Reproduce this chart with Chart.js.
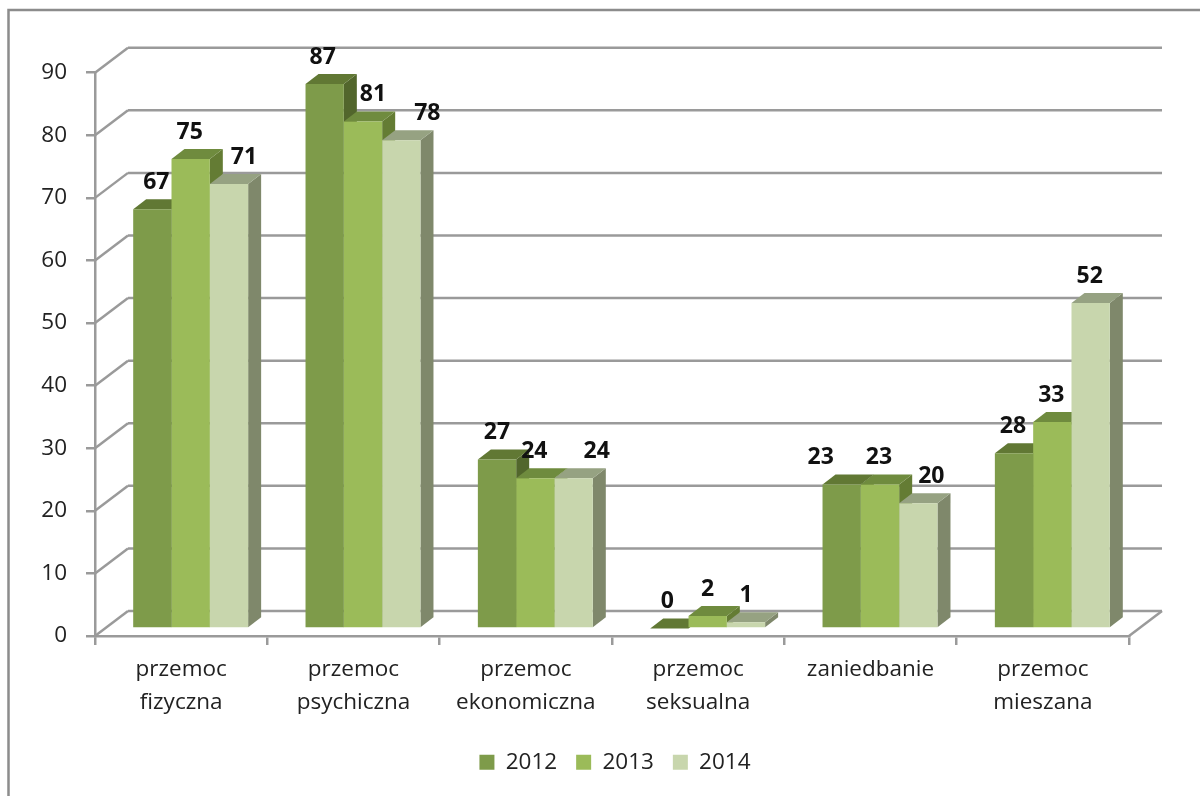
<!DOCTYPE html>
<html lang="pl">
<head>
<meta charset="utf-8">
<title>Formy przemocy 2012-2014</title>
<script src="https://cdn.jsdelivr.net/npm/chart.js@4"></script>
<style>
  html, body { margin: 0; background: #fff; }
  canvas { display: block; }
</style>
</head>
<body>
<canvas id="wykres" width="1200" height="796"></canvas>
<script>
const kategorie = [
  ['przemoc', 'fizyczna'],
  ['przemoc', 'psychiczna'],
  ['przemoc', 'ekonomiczna'],
  ['przemoc', 'seksualna'],
  ['zaniedbanie'],
  ['przemoc', 'mieszana'],
];
const lata = ['2012', '2013', '2014'];
const dane2012 = [67, 87, 27, 0, 23, 28];
const dane2013 = [75, 81, 24, 2, 23, 33];
const dane2014 = [71, 78, 24, 1, 20, 52];

// kolory: przód, góra, bok słupka
const koloryPrzod = ['#7e9b4a', '#9bbb59', '#c8d6ad'];
const koloryGora  = ['#617834', '#6f8b3e', '#96a282'];
const koloryBok   = ['#52662c', '#647c34', '#7f886b'];

// etykiety w oryginale nie są równo nad słupkami
const przesuniecieEtykiet = [
  [4, -2, 0, -2, -21, -1],
  [-1, 10, -1, 0, -1, -1],
  [15, 26, 23, 0, 13, -1],
];

const FONT = '"Open Sans"';
const SZARY = '#9a9a9a';
const GLEBIA_SCIANY = { x: 33, y: 25 };  // tylna ściana względem osi
const PRZESUNIECIE = { x: 9.5, y: -7.5 };  // słupki stoją w głębi podłogi
const GLEBIA_SLUPKA = { x: 13, y: 10 };

function wielokat(ctx, punkty, kolor) {
  ctx.fillStyle = kolor;
  ctx.beginPath();
  punkty.forEach((p, i) => i ? ctx.lineTo(p[0], p[1]) : ctx.moveTo(p[0], p[1]));
  ctx.closePath();
  ctx.fill();
}

function linia(ctx, x1, y1, x2, y2) {
  ctx.beginPath();
  ctx.moveTo(x1, y1);
  ctx.lineTo(x2, y2);
  ctx.stroke();
}

const ramka = {
  id: 'ramka',
  beforeDraw(chart) {
    const { ctx, width, height } = chart;
    ctx.save();
    ctx.strokeStyle = '#8c8c8c';
    ctx.lineWidth = 2.5;
    ctx.beginPath();
    ctx.moveTo(8.5, height);
    ctx.lineTo(8.5, 10);
    ctx.lineTo(width, 10);
    ctx.stroke();
    ctx.restore();
  },
};

const legendaPozycja = {
  id: 'legendaPozycja',
  afterLayout(chart) {
    const l = chart.legend;
    const dx = 615 - (l.left + l.right) / 2;
    l.left += dx;
    l.right += dx;
    const h = l.height;
    l.top = 732;
    l.bottom = 732 + h;
  },
};

// tylna ściana i boki słupków, przody rysuje sam Chart.js
const bryla = {
  id: 'bryla',
  beforeDatasetsDraw(chart) {
    const { ctx, chartArea, scales } = chart;
    ctx.save();
    ctx.strokeStyle = SZARY;
    ctx.lineWidth = 2.5;
    scales.y.ticks.forEach(t => {
      const y = scales.y.getPixelForValue(t.value);
      linia(ctx, chartArea.left, y, chartArea.left + GLEBIA_SCIANY.x, y - GLEBIA_SCIANY.y);
      linia(ctx, chartArea.left + GLEBIA_SCIANY.x, y - GLEBIA_SCIANY.y, chartArea.right + GLEBIA_SCIANY.x, y - GLEBIA_SCIANY.y);
    });
    linia(ctx, chartArea.right, chartArea.bottom, chartArea.right + GLEBIA_SCIANY.x, chartArea.bottom - GLEBIA_SCIANY.y);

    ctx.translate(PRZESUNIECIE.x, PRZESUNIECIE.y);
    const dx = GLEBIA_SLUPKA.x, dy = GLEBIA_SLUPKA.y;
    chart.data.labels.forEach((_, k) => {
      chart.data.datasets.forEach((ds, s) => {
        const b = chart.getDatasetMeta(s).data[k];
        const l = b.x - b.width / 2, r = b.x + b.width / 2;
        wielokat(ctx, [[r, b.y], [r + dx, b.y - dy], [r + dx, b.base - dy], [r, b.base]], koloryBok[s]);
        wielokat(ctx, [[l, b.y], [l + dx, b.y - dy], [r + dx, b.y - dy], [r, b.y]], koloryGora[s]);
      });
    });
  },
  afterDatasetsDraw(chart) {
    const { ctx } = chart;
    ctx.restore();
    ctx.save();
    ctx.font = 'bold 23px ' + FONT;
    ctx.fillStyle = '#111';
    ctx.textAlign = 'center';
    ctx.textBaseline = 'middle';
    chart.data.datasets.forEach((ds, s) => {
      chart.getDatasetMeta(s).data.forEach((b, k) => {
        ctx.fillText(ds.data[k], b.x + PRZESUNIECIE.x + przesuniecieEtykiet[s][k], b.y + PRZESUNIECIE.y - 27);
      });
    });
    ctx.restore();
  },
};

new Chart(document.getElementById('wykres'), {
  type: 'bar',
  data: {
    labels: kategorie,
    datasets: [dane2012, dane2013, dane2014].map((d, i) => ({
      label: lata[i],
      data: d,
      backgroundColor: koloryPrzod[i],
      borderWidth: 0,
      categoryPercentage: 0.667,
      barPercentage: 1,
    })),
  },
  options: {
    responsive: false,
    animation: false,
    layout: { padding: { top: 72.7, right: 71, left: 0, bottom: 0 } },
    plugins: {
      tooltip: { enabled: false },
      legend: {
        position: 'bottom',
        labels: {
          boxWidth: 15,
          boxHeight: 15,
          padding: 19,
          color: '#222',
          font: { family: FONT, size: 22.5 },
        },
      },
    },
    scales: {
      x: {
        afterFit: s => { s.height = 796 - 636 - s.chart.legend.height; },
        grid: { drawOnChartArea: false, tickLength: 9, color: SZARY, lineWidth: 2.5 },
        border: { color: SZARY, width: 2.5 },
        ticks: {
          color: '#222',
          padding: 8,
          maxRotation: 0,
          font: { family: FONT, size: 22.5, lineHeight: 1.47 },
        },
      },
      y: {
        min: 0,
        max: 90,
        afterFit: s => { s.width = 95; },
        grid: { drawOnChartArea: false, tickLength: 9, color: SZARY, lineWidth: 2.5 },
        border: { color: SZARY, width: 2.5 },
        ticks: {
          stepSize: 10,
          color: '#222',
          padding: 19,
          font: { family: FONT, size: 22.5 },
        },
      },
    },
  },
  plugins: [ramka, legendaPozycja, bryla],
});
</script>
</body>
</html>
